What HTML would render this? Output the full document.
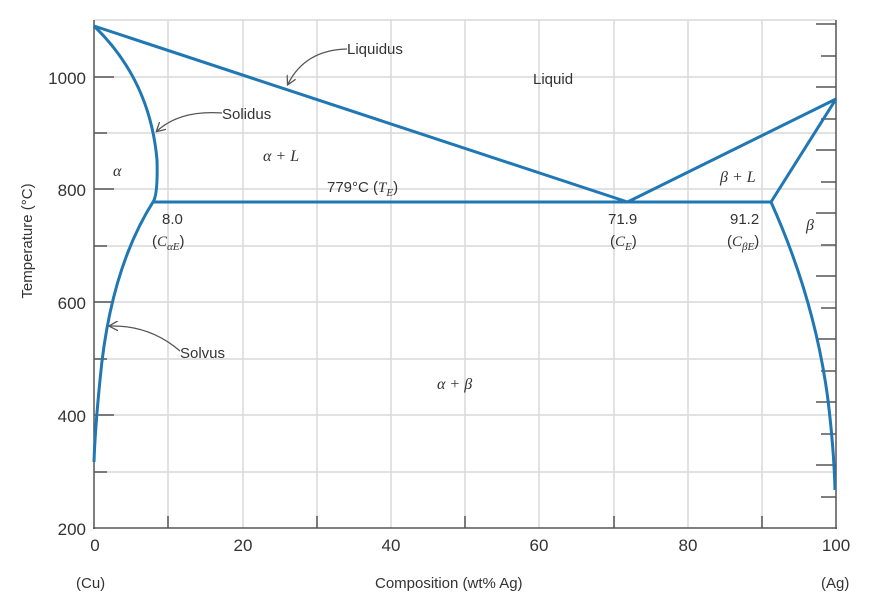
<!DOCTYPE html>
<html><head><style>
html,body{margin:0;padding:0;background:#fff;}
svg{display:block;}
text{font-family:"Liberation Sans",sans-serif;fill:#333;}
.it{font-family:"Liberation Serif",serif;font-style:italic;}
</style></head><body>
<svg width="892" height="603" viewBox="0 0 892 603" xmlns="http://www.w3.org/2000/svg">
<defs><marker id="ah" markerWidth="10" markerHeight="10" refX="8" refY="5" orient="auto" markerUnits="userSpaceOnUse"><path d="M0,0 L9,5 L0,10" fill="none" stroke="#555" stroke-width="1.3"/></marker></defs>
<g stroke="#d9d9d9" stroke-width="1.5">
<line x1="168" y1="20" x2="168" y2="528"/><line x1="243" y1="20" x2="243" y2="528"/><line x1="317" y1="20" x2="317" y2="528"/><line x1="391" y1="20" x2="391" y2="528"/><line x1="465" y1="20" x2="465" y2="528"/><line x1="539" y1="20" x2="539" y2="528"/><line x1="614" y1="20" x2="614" y2="528"/><line x1="688" y1="20" x2="688" y2="528"/><line x1="762" y1="20" x2="762" y2="528"/>
<line x1="94" y1="20" x2="836" y2="20"/><line x1="94" y1="77" x2="836" y2="77"/><line x1="94" y1="133" x2="836" y2="133"/><line x1="94" y1="189" x2="836" y2="189"/><line x1="94" y1="246" x2="836" y2="246"/><line x1="94" y1="302" x2="836" y2="302"/><line x1="94" y1="359" x2="836" y2="359"/><line x1="94" y1="415" x2="836" y2="415"/><line x1="94" y1="472" x2="836" y2="472"/>
</g>
<g stroke="#555" stroke-width="1.5">
<line x1="94" y1="20" x2="94" y2="529"/><line x1="93" y1="528" x2="837" y2="528"/><line x1="836" y1="20" x2="836" y2="529"/>
<line x1="94" y1="77" x2="114" y2="77"/><line x1="94" y1="189" x2="114" y2="189"/><line x1="94" y1="302" x2="114" y2="302"/><line x1="94" y1="415" x2="114" y2="415"/>
<line x1="94" y1="133" x2="107" y2="133"/><line x1="94" y1="246" x2="107" y2="246"/><line x1="94" y1="359" x2="107" y2="359"/><line x1="94" y1="472" x2="107" y2="472"/>
<line x1="168" y1="528" x2="168" y2="516"/><line x1="317" y1="528" x2="317" y2="516"/><line x1="465" y1="528" x2="465" y2="516"/><line x1="614" y1="528" x2="614" y2="516"/><line x1="762" y1="528" x2="762" y2="516"/>
<line x1="821" y1="497" x2="836" y2="497"/><line x1="816" y1="465" x2="836" y2="465"/><line x1="821" y1="434" x2="836" y2="434"/><line x1="816" y1="402" x2="836" y2="402"/><line x1="821" y1="371" x2="836" y2="371"/><line x1="816" y1="339" x2="836" y2="339"/><line x1="821" y1="308" x2="836" y2="308"/><line x1="816" y1="276" x2="836" y2="276"/><line x1="821" y1="245" x2="836" y2="245"/><line x1="816" y1="213" x2="836" y2="213"/><line x1="821" y1="182" x2="836" y2="182"/><line x1="816" y1="150" x2="836" y2="150"/><line x1="821" y1="119" x2="836" y2="119"/><line x1="816" y1="87" x2="836" y2="87"/><line x1="821" y1="56" x2="836" y2="56"/><line x1="816" y1="24" x2="836" y2="24"/>
</g>
<g fill="none" stroke="#1f77b4" stroke-width="3" stroke-linejoin="round">
<polyline points="94,26 627.5,202 836,99"/>
<line x1="153" y1="202" x2="771" y2="202"/>
<path d="M94,26 Q150,80 157,160 Q158,195 153,202"/>
<path d="M153,202 Q110,270 100,380 Q95,430 94,462"/>
<line x1="836" y1="99" x2="771" y2="202"/>
<path d="M771,202 Q815,300 828,400 Q834,450 835,490"/>
</g>
<g fill="none" stroke="#555" stroke-width="1.3">
<path d="M347,49 Q305,50 288,84" marker-end="url(#ah)"/>
<path d="M222,113 Q180,110 157,131" marker-end="url(#ah)"/>
<path d="M180,351 Q150,325 110,326" marker-end="url(#ah)"/>
</g>
<g font-size="17" text-anchor="end">
<text x="86" y="84">1000</text><text x="86" y="196">800</text><text x="86" y="309">600</text><text x="86" y="422">400</text><text x="86" y="535">200</text>
</g>
<g font-size="17" text-anchor="middle">
<text x="95" y="551">0</text><text x="243" y="551">20</text><text x="391" y="551">40</text><text x="539" y="551">60</text><text x="688" y="551">80</text><text x="836" y="551">100</text>
</g>
<g font-size="15">
<text x="76" y="588">(Cu)</text><text x="821" y="588">(Ag)</text>
<text x="375" y="588">Composition (wt% Ag)</text>
<text transform="translate(32,241) rotate(-90)" text-anchor="middle">Temperature (°C)</text>
<text x="347" y="54">Liquidus</text><text x="533" y="84">Liquid</text><text x="222" y="119">Solidus</text><text x="180" y="358">Solvus</text>
<text x="327" y="192">779°C (<tspan class="it">T</tspan><tspan class="it" font-size="11" dy="4">E</tspan><tspan dy="-4">)</tspan></text>
<text x="162" y="224">8.0</text><text x="608" y="224">71.9</text><text x="730" y="224">91.2</text>
<text x="152" y="246">(<tspan class="it">C</tspan><tspan class="it" font-size="11" dy="4">αE</tspan><tspan dy="-4">)</tspan></text>
<text x="610" y="246">(<tspan class="it">C</tspan><tspan class="it" font-size="11" dy="4">E</tspan><tspan dy="-4">)</tspan></text>
<text x="727" y="246">(<tspan class="it">C</tspan><tspan class="it" font-size="11" dy="4">βE</tspan><tspan dy="-4">)</tspan></text>
</g>
<g font-size="16" class="it">
<text x="113" y="176" class="it">α</text>
<text x="263" y="161" class="it">α + L</text>
<text x="720" y="182" class="it">β + L</text>
<text x="806" y="230" class="it">β</text>
<text x="437" y="389" class="it">α + β</text>
</g>
</svg>
</body></html>
